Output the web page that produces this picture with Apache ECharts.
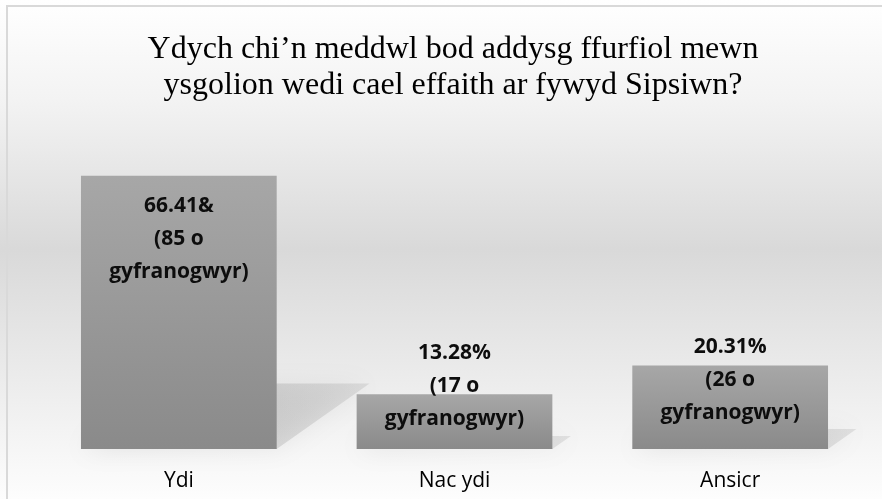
<!DOCTYPE html>
<html>
<head>
<meta charset="utf-8">
<script src="https://cdn.jsdelivr.net/npm/echarts@6/dist/echarts.min.js"></script>
<style>html,body{margin:0;padding:0;background:#fff}#c{width:882px;height:499px}</style>
</head>
<body>
<div id="c"></div>
<script>
const titleText = "Ydych chi\u2019n meddwl bod addysg ffurfiol mewn\nysgolion wedi cael effaith ar fywyd Sipsiwn?";
const categories = ["Ydi", "Nac ydi", "Ansicr"];
const values = [66.41, 13.28, 20.31];
const counts = [85, 17, 26];
const pctLabels = ["66.41&", "13.28%", "20.31%"];

const labelOffsets = [14, -58, -35];

const chart = echarts.init(document.getElementById('c'), null, {renderer: 'canvas'});

const barData = values.map((v, i) => ({
  value: v,
  label: {
    position: ['50%', labelOffsets[i]],
    formatter: pctLabels[i] + "\n(" + counts[i] + " o\ngyfranogwyr)"
  }
}));

const option = {
  animation: false,
  graphic: [
    {
      type: 'rect', z: -10, silent: true,
      shape: {x: 0, y: 0, width: 882, height: 499},
      style: {fill: new echarts.graphic.LinearGradient(0, 0, 0, 1, [
        {offset: 0, color: '#ffffff'},
        {offset: 0.2, color: '#f3f3f3'},
        {offset: 0.5, color: '#d9d9d9'},
        {offset: 0.86, color: '#f3f3f3'},
        {offset: 1, color: '#fdfdfd'}
      ])}
    },
    {
      type: 'rect', z: -9, silent: true,
      shape: {x: 7, y: 6, width: 900, height: 520},
      style: {fill: 'none', stroke: '#d9d9d9', lineWidth: 2}
    }
  ],
  title: {
    text: titleText,
    left: 448,
    textAlign: 'center',
    top: 27,
    textStyle: {
      fontFamily: 'Liberation Serif',
      fontWeight: 'normal',
      fontSize: 32,
      lineHeight: 36,
      color: '#000'
    }
  },
  grid: {left: 41, right: 14, top: 161, bottom: 50},
  xAxis: {
    type: 'category',
    data: categories,
    axisLine: {show: false},
    axisTick: {show: false},
    axisLabel: {
      margin: 22,
      fontFamily: 'Open Sans',
      fontSize: 21,
      color: '#000'
    }
  },
  yAxis: {
    type: 'value', min: 0, max: 70, show: false,
    splitLine: {show: false}
  },
  series: [
    {
      type: 'custom',
      z: 1,
      silent: true,
      data: values,
      renderItem: function (params, api) {
        const i = params.dataIndex;
        const v = api.value(0);
        const base = api.coord([i, 0]);
        const top = api.coord([i, v]);
        const bw = api.size([1, 0])[0] * 0.71;
        const h = base[1] - top[1];
        const x0 = base[0] - bw / 2, x1 = base[0] + bw / 2;
        const dx = h * 0.34, dy = h * 0.24;
        return {
          type: 'polygon',
          shape: {points: [[x0, base[1]], [x1, base[1]], [x1 + dx, base[1] - dy], [x0 + dx, base[1] - dy]]},
          style: {
            fill: new echarts.graphic.LinearGradient(0, 0, 1, 0, [
              {offset: 0, color: 'rgba(110,110,110,0.3)'},
              {offset: 1, color: 'rgba(110,110,110,0.15)'}
            ]),
            shadowBlur: 24,
            shadowColor: 'rgba(110,110,110,0.55)'
          }
        };
      },
      encode: {x: -1, y: 0}
    },
    {
      type: 'bar',
      z: 2,
      data: barData,
      barWidth: '71%',
      itemStyle: {
        color: new echarts.graphic.LinearGradient(0, 0, 0, 1, [
          {offset: 0, color: '#a7a7a7'},
          {offset: 1, color: '#8a8a8a'}
        ])
      },
      label: {
        show: true,
        align: 'center',
        verticalAlign: 'top',
        fontFamily: 'Open Sans',
        fontWeight: 'bold',
        fontSize: 21,
        lineHeight: 33,
        color: '#0d0d0d'
      }
    }
  ]
};
chart.setOption(option);
</script>
</body>
</html>
